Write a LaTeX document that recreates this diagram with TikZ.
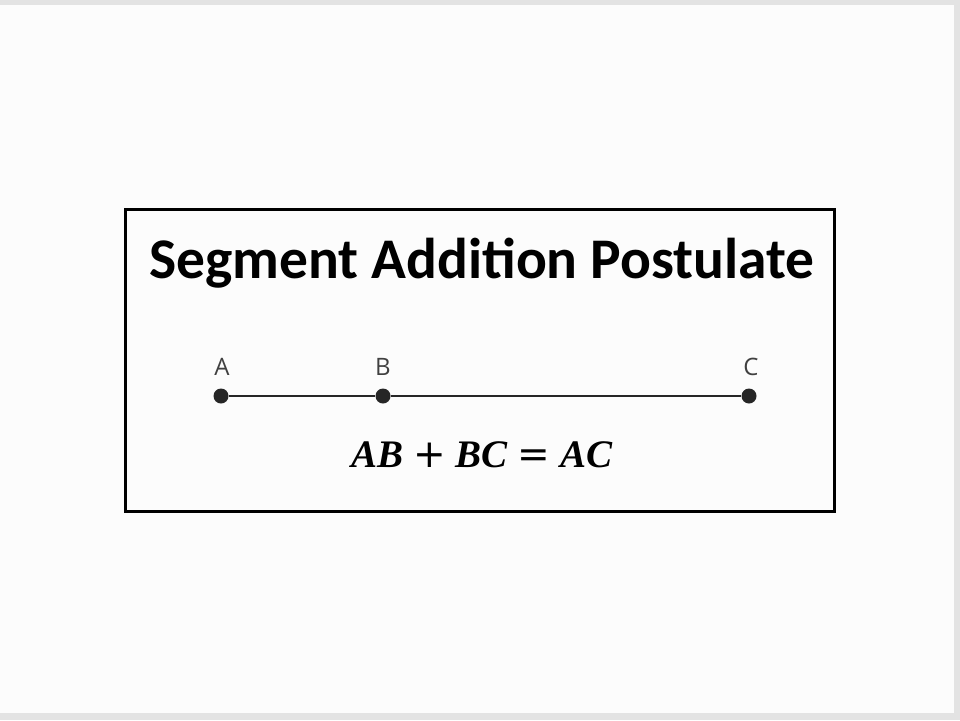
\documentclass[tikz,border=0pt]{standalone}
\usepackage{fontspec}
\setmainfont{Carlito}
\newfontfamily\labelfont{Open Sans}
\newfontfamily\eqfont{Liberation Serif}
\newfontfamily\opfont{DejaVu Sans}
\begin{document}
\begin{tikzpicture}[x=1pt,y=-1pt,
  frame/.style={draw=black,line width=3pt},
  pt/.style={circle,fill=black!85,inner sep=0pt,minimum size=15pt},
  lbl/.style={font=\labelfont\fontsize{24}{24}\selectfont,text=black!75,inner sep=0pt},
  seg/.style={line width=2.2pt,draw=black!85}]
\fill[black!11] (0,0) rectangle (960,720);
\fill[white!99!black] (0,5) rectangle (954,713);
\useasboundingbox (0,0) rectangle (960,720);
\node[frame,minimum width=709pt,minimum height=302pt,inner sep=0pt] (box) at (479.5,360) {};
\node[font=\bfseries\fontsize{57.5}{57.5}\selectfont,inner sep=0pt] (title) at (482,263) {Segment Addition Postulate};
\node[pt] (A) at (221,396) {};
\node[pt] (B) at (383,396) {};
\node[pt] (C) at (749,396) {};
\draw[seg] (A) -- (B);
\draw[seg] (B) -- (C);
\node[lbl] (la) at (222,367) {A};
\node[lbl] (lb) at (383,367) {B};
\node[lbl] (lc) at (751,367) {C};
\node[font=\eqfont\bfseries\fontsize{39}{39}\selectfont,inner sep=0pt] (eq) at (482,455) {\textit{AB} {\opfont\mdseries +} \textit{BC} {\opfont\mdseries =} \textit{AC}};
\end{tikzpicture}
\end{document}
